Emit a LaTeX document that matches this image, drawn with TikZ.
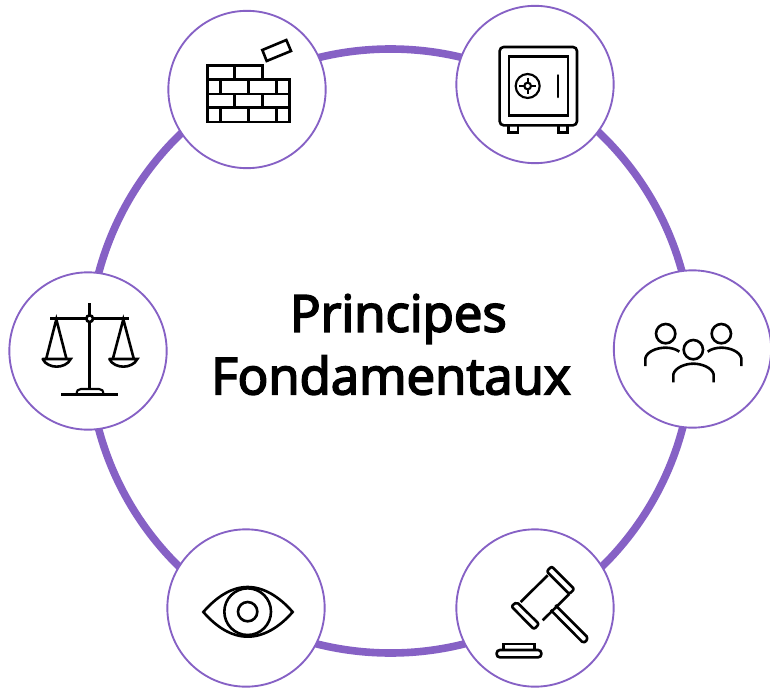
\documentclass[tikz,border=0pt]{standalone}
\usepackage{fontspec}
\setmainfont{Open Sans}[FakeBold=3.5]
\definecolor{ringpurple}{HTML}{8661C5}
\tikzset{
  x=0.75pt,y=-0.75pt,
  ringstyle/.style={circle,draw=ringpurple,line width=5.7pt,minimum size=453pt,inner sep=0pt,outer sep=0pt},
  badge/.style={circle,draw=ringpurple,line width=1.4pt,fill=white,minimum size=118pt,inner sep=0pt,outer sep=0pt},
  icon/.style={draw=black,line width=1.95pt,line join=miter},
  title/.style={font=\fontsize{38.2}{47}\selectfont,align=center,text=black,inner sep=0pt}
}
\begin{document}
\begin{tikzpicture}
\useasboundingbox (0,0) rectangle (770,688);
\node[ringstyle] (ring) at (390.5,351) {};
\node[badge] (wall) at (247,89.5) {};
\node[badge] (safe) at (535,84.5) {};
\node[badge] (scales) at (88,351) {};
\node[badge] (people) at (692.5,349) {};
\node[badge] (eye) at (246,608) {};
\node[badge] (gavel) at (535,608) {};
\node[title] (label) at (391,344.5) {\hspace*{11pt}Principes\\Fondamentaux};

% brick wall
\begin{scope}[shift={(160,0)},scale=1/3]
\draw[icon] (142,197) -- (308,197) -- (308,239) -- (389,239) -- (389,366) -- (142,366) -- cycle;
\draw[icon] (142,239) -- (308,239) (142,282) -- (389,282) (142,323) -- (389,323);
\draw[icon] (224,197) -- (224,239) (182,239) -- (182,282) (266,239) -- (266,282) (350,239) -- (350,282);
\draw[icon] (224,282) -- (224,323) (308,282) -- (308,323) (182,323) -- (182,366) (266,323) -- (266,366) (350,323) -- (350,366);
\draw[icon] (307,150) -- (379,120) -- (393,153) -- (320,183) -- cycle;
\end{scope}

% safe
\begin{scope}[shift={(450,0)},scale=1/3]
\draw[icon,rounded corners=3pt] (149,141) rectangle (381,376);
\draw[icon] (177,170) rectangle (354,347);
\draw[icon] (176,376) -- (176,397) -- (204,397) -- (204,376);
\draw[icon] (326,376) -- (326,397) -- (352,397) -- (352,376);
\draw[icon,line width=1.6pt] (233,258) circle[radius=36*0.75pt];
\draw[icon,line width=1.6pt] (233,258) circle[radius=10*0.75pt];
\draw[icon,line width=1.6pt] (233,233) -- (233,248) (233,268) -- (233,283) (208,258) -- (223,258) (243,258) -- (258,258);
\draw[icon,line cap=round] (324,226) -- (324,291);
\end{scope}

% scales
\begin{scope}[shift={(0,265)},scale=1/3]
\draw[icon] (269,115) -- (269,372);
\draw[icon] (151,161) -- (388,161);
\draw[icon,fill=white] (269,161) circle[radius=10*0.75pt];
\draw[icon] (139,280) -- (169,163) -- (199,280);
\draw[icon] (339,280) -- (370,163) -- (401,280);
\draw[icon,line cap=round] (128,282) -- (212,282) .. controls (205,298) and (185,305) .. (170,305) .. controls (155,305) and (135,298) .. (128,282);
\draw[icon,line cap=round] (328,282) -- (412,282) .. controls (405,298) and (385,305) .. (370,305) .. controls (355,305) and (335,298) .. (328,282);
\draw[icon] (183,388) -- (354,388);
\draw[icon,line width=1.6pt] (230,387) .. controls (230,377) and (234,372) .. (243,372) -- (297,372) .. controls (306,372) and (310,377) .. (310,387);
\end{scope}

% people
\begin{scope}[shift={(610,265)},scale=1/3]
\draw[icon] (167,206) circle[radius=29*0.75pt];
\draw[icon] (334,206) circle[radius=29*0.75pt];
\draw[icon] (250,254) circle[radius=29*0.75pt];
\draw[icon] (190,352) -- (190,328) .. controls (195,308) and (225,296) .. (250,296) .. controls (275,296) and (306,308) .. (311,328) -- (311,352);
\draw[icon] (106,303) -- (106,280) .. controls (110,260) and (140,248) .. (167,248) .. controls (182,248) and (198,252) .. (208,260);
\draw[icon] (394,303) -- (394,280) .. controls (390,260) and (360,248) .. (334,248) .. controls (319,248) and (303,252) .. (293,260);
\end{scope}

% eye
\begin{scope}[shift={(160,525)},scale=1/3]
\draw[icon] (130,261) .. controls (170,215) and (215,186) .. (263,186) .. controls (311,186) and (358,215) .. (398,261) .. controls (358,307) and (311,335) .. (263,335) .. controls (215,335) and (170,307) .. (130,261) -- cycle;
\draw[icon] (263,260) circle[radius=70*0.75pt];
\draw[icon] (263,260) circle[radius=29*0.75pt];
\end{scope}

% gavel
\begin{scope}[shift={(450,525)},scale=1/3]
\draw[icon,line join=round,rounded corners=1.5pt] (305,124) -- (373,192) -- (358,207) -- (290,139) -- cycle;
\draw[icon,line join=round,rounded corners=1.5pt] (200,231) -- (267,297) -- (252,313) -- (184,244) -- cycle;
\draw[icon] (293,151) -- (212,231);
\draw[icon] (358,207) -- (278,286);
\draw[icon,line join=round] (316,240) -- (410,334) .. controls (416,342) and (405,357) .. (396,350) -- (302,255);
\draw[icon,rounded corners=2.4pt] (140,375) rectangle (274,397);
\draw[icon] (160,375) -- (160,357) -- (254,357) -- (254,375);
\end{scope}
\end{tikzpicture}
\end{document}
